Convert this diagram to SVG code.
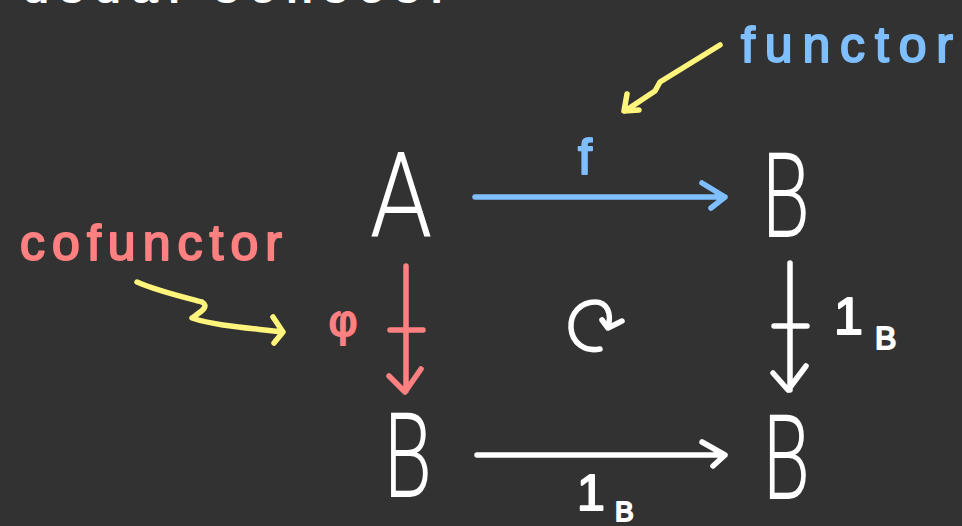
<svg xmlns="http://www.w3.org/2000/svg" width="962" height="526" viewBox="0 0 962 526">
<style>
.obj{font-family:Roboto,"Liberation Sans",sans-serif;font-weight:300;fill:#ffffff;font-size:118px}
.lbl{font-family:"Liberation Sans",Arial,sans-serif;stroke-linejoin:round;stroke-width:2px}
.w{fill:#ffffff;stroke:#ffffff}
.bl{fill:#7fbfff;stroke:#7fbfff}
.rd{fill:#ff8080;stroke:#ff8080}
.ln{fill:none;stroke-width:5.5;stroke-linecap:round;stroke-linejoin:round}
</style>
<rect width="962" height="526" fill="#323232"/>
<text class="lbl w" x="23" y="2" font-size="46" textLength="420" lengthAdjust="spacing">usual senses.</text>
<g id="nodeA"><text class="obj" x="370" y="237" textLength="62" lengthAdjust="spacingAndGlyphs">A</text></g>
<g id="nodeB1"><text class="obj" x="762" y="237" textLength="48" lengthAdjust="spacingAndGlyphs">B</text></g>
<g id="nodeB2"><text class="obj" x="384" y="497" textLength="48" lengthAdjust="spacingAndGlyphs">B</text></g>
<g id="nodeB3"><text class="obj" x="763" y="499" font-size="116" textLength="47" lengthAdjust="spacingAndGlyphs">B</text></g>
<g id="connectors">
  <g id="f-arrow">
    <path class="ln" stroke="#7fbfff" d="M475,197 L725,197 M702,183 L725,197 L711,208"/>
    <text class="lbl bl" x="585" y="174" font-size="50" text-anchor="middle">f</text>
  </g>
  <g id="phi-arrow">
    <path class="ln" stroke="#ff8080" d="M406,266 L406,391 M390,330 L423,330 M389,376 L405,392 L421,369"/>
    <text class="lbl rd" x="343" y="336" font-size="44" text-anchor="middle">φ</text>
  </g>
  <g id="idB-right">
    <path class="ln" stroke="#ffffff" d="M790,263 L790,390 M774,326 L807,326 M773,373 L788,390 L806,366"/>
    <text class="lbl w" x="834" y="334" font-size="52">1</text>
    <text class="lbl w" x="875" y="349" font-size="32">B</text>
  </g>
  <g id="idB-bottom">
    <path class="ln" stroke="#ffffff" d="M477,455 L725,455 M702,442 L725,455 L713,466"/>
    <text class="lbl w" x="577" y="510" font-size="50">1</text>
    <text class="lbl w" x="615" y="521" font-size="28">B</text>
  </g>
  <path id="commute" class="ln" stroke="#ffffff" d="M600,349 C585,352 572,343 571,328 C570,313 581,302 595,302 C607,302 612,313 608,327 M602,320 L608,328 L622,321"/>
  <g id="functor-note">
    <path class="ln" stroke="#fff47c" d="M720,45 L660,82 L655,91 L625,111 M627,94 L624,111 L639,110"/>
    <text class="lbl bl" x="741" y="62" font-size="50" textLength="212" lengthAdjust="spacing">functor</text>
  </g>
  <g id="cofunctor-note">
    <path class="ln" stroke="#fff47c" d="M137,282 C160,292 188,298 202,302 C210,307 200,312 192,318 C215,326 250,328 283,332 M273,317 L283,332 L274,343"/>
    <text class="lbl rd" x="20" y="260" font-size="50" textLength="262" lengthAdjust="spacing">cofunctor</text>
  </g>
</g>
</svg>
